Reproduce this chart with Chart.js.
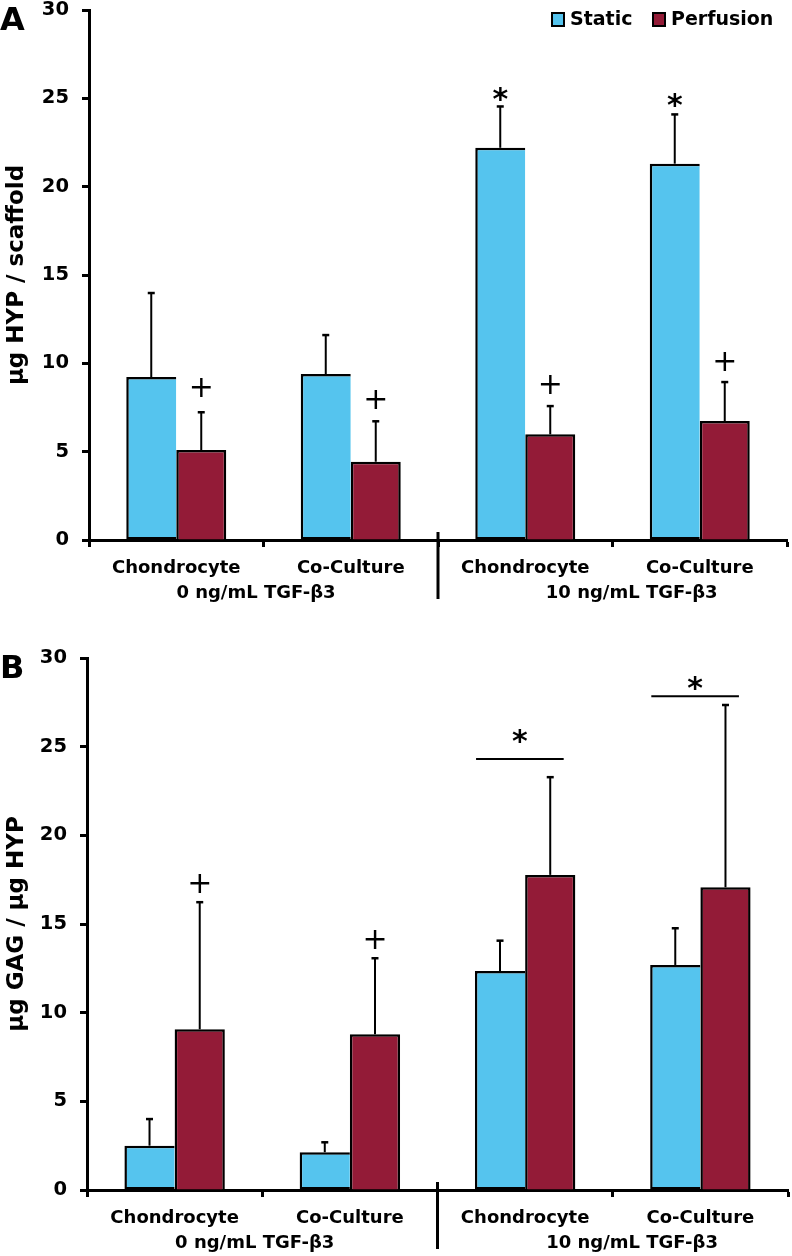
<!DOCTYPE html>
<html>
<head>
<meta charset="utf-8">
<script src="https://cdn.jsdelivr.net/npm/chart.js@4"></script>
<style>
  html, body { margin: 0; padding: 0; background: #fff; }
  #wrap { position: relative; width: 792px; height: 1256px; }
  #chart-hyp { position: absolute; left: 0; top: 0; }
  #chart-gag { position: absolute; left: 0; top: 620px; }
</style>
</head>
<body>
<div id="wrap">
  <canvas id="chart-hyp" width="792" height="618"></canvas>
  <canvas id="chart-gag" width="792" height="636"></canvas>
</div>
<script>
const categories = ["Chondrocyte", "Co-Culture", "Chondrocyte", "Co-Culture"];
const groupLabels = ["0 ng/mL TGF-β3", "10 ng/mL TGF-β3"];
const seriesNames = ["Static", "Perfusion"];
const yTicks = [0, 5, 10, 15, 20, 25, 30];

// panel A: µg HYP / scaffold
const hypStatic = [9.22, 9.39, 22.2, 21.3];
const hypStaticErr = [4.76, 2.21, 2.34, 2.79];
const hypPerfusion = [5.09, 4.43, 5.98, 6.73];
const hypPerfusionErr = [2.14, 2.29, 1.6, 2.21];
const hypStars = [null, null, 25.2, 24.9];        // "*" over static
const hypPlus = [8.66, 7.98, 8.83, 10.13];        // "+" over perfusion

// panel B: µg GAG / µg HYP
const gagStatic = [2.5, 2.13, 12.35, 12.69];
const gagStaticErr = [1.5, 0.56, 1.71, 2.07];
const gagPerfusion = [9.06, 8.78, 17.77, 17.07];
const gagPerfusionErr = [7.17, 4.29, 5.51, 10.28];
const gagPlus = [17.3, 14.14, null, null];
const gagBrackets = [null, null, 24.31, 27.85];   // "*" bracket line height
const gagBracketStars = [null, null, 25.57, 28.54];

const BLUE = "#55c4ee";
const RED = "#931b37";
const FONT = "'DejaVu Sans', sans-serif";

function glyph(ctx, text, font, cx, cy) {
  ctx.font = font;
  ctx.textAlign = "center";
  ctx.textBaseline = "alphabetic";
  const m = ctx.measureText(text);
  ctx.fillText(text, cx, cy + (m.actualBoundingBoxAscent - m.actualBoundingBoxDescent) / 2);
}

function overlay(cfg) {
  return {
    id: "overlay",
    afterDatasetsDraw(chart) {
      const { ctx, scales: { x, y } } = chart;
      ctx.save();
      ctx.strokeStyle = "#000";
      ctx.fillStyle = "#000";
      // error bars (upper only)
      cfg.errors.forEach((errs, d) => {
        const vals = chart.data.datasets[d].data;
        chart.getDatasetMeta(d).data.forEach((bar, i) => {
          const base = y.getPixelForValue(vals[i]);
          const top = y.getPixelForValue(vals[i] + errs[i]);
          ctx.lineWidth = 2;
          ctx.beginPath(); ctx.moveTo(bar.x, base); ctx.lineTo(bar.x, top); ctx.stroke();
          ctx.lineWidth = 2.5;
          ctx.beginPath(); ctx.moveTo(bar.x - 3.5, top); ctx.lineTo(bar.x + 3.5, top); ctx.stroke();
        });
      });
      // significance symbols
      cfg.marks.forEach((mk) => {
        const meta = chart.getDatasetMeta(mk.dataset);
        mk.values.forEach((v, i) => {
          if (v == null) return;
          const font = mk.symbol === "*" ? `bold 30px ${FONT}` : `30px ${FONT}`;
          glyph(ctx, mk.symbol, font, meta.data[i].x, y.getPixelForValue(v));
        });
      });
      // brackets
      if (cfg.brackets) {
        cfg.brackets.values.forEach((v, i) => {
          if (v == null) return;
          const py = y.getPixelForValue(v);
          const x0 = x.getPixelForValue(i - 0.28);
          const x1 = x.getPixelForValue(i + 0.22);
          ctx.lineWidth = 2;
          ctx.beginPath(); ctx.moveTo(x0, py); ctx.lineTo(x1, py); ctx.stroke();
          glyph(ctx, "*", `bold 30px ${FONT}`, (x0 + x1) / 2, y.getPixelForValue(cfg.brackets.stars[i]));
        });
      }
      ctx.restore();
    },
    afterDraw(chart) {
      const { ctx, chartArea, scales: { x } } = chart;
      ctx.save();
      ctx.fillStyle = "#000";
      ctx.strokeStyle = "#000";
      // group separator
      const sx = x.getPixelForValue(1.5);
      ctx.lineWidth = 3;
      ctx.beginPath();
      ctx.moveTo(sx, chartArea.bottom - 8);
      ctx.lineTo(sx, chartArea.bottom + 59);
      ctx.stroke();
      // group labels
      ctx.font = `bold 18px ${FONT}`;
      ctx.textAlign = "center";
      ctx.textBaseline = "middle";
      ctx.fillText(groupLabels[0], x.getPixelForValue(0.457), chartArea.bottom + 53);
      ctx.fillText(groupLabels[1], x.getPixelForValue(2.61), chartArea.bottom + 53);
      // panel letter
      ctx.font = `bold 32px ${FONT}`;
      ctx.textAlign = "left";
      ctx.textBaseline = "alphabetic";
      ctx.fillText(cfg.letter, 0, cfg.letterY);
      // legend
      if (cfg.legend) {
        const items = [
          { label: seriesNames[0], color: BLUE, x: 552 },
          { label: seriesNames[1], color: RED, x: 653 },
        ];
        items.forEach((it) => {
          ctx.fillStyle = it.color;
          ctx.fillRect(it.x, 13, 12, 13);
          ctx.lineWidth = 2;
          ctx.strokeRect(it.x, 13, 12, 13);
          ctx.fillStyle = "#000";
          ctx.font = `bold 19px ${FONT}`;
          ctx.textBaseline = "middle";
          ctx.fillText(it.label, it.x + 18, 20);
        });
      }
      ctx.restore();
    },
  };
}

function makeChart(id, opts) {
  const canvas = document.getElementById(id);
  return new Chart(canvas, {
    type: "bar",
    data: {
      labels: categories,
      datasets: [
        {
          label: seriesNames[0],
          data: opts.staticVals,
          backgroundColor: BLUE,
          borderColor: "#000",
          borderWidth: 2.5,
          borderSkipped: "right",
          categoryPercentage: 0.573,
          barPercentage: 1.0,
        },
        {
          label: seriesNames[1],
          data: opts.perfVals,
          backgroundColor: RED,
          borderColor: "#000",
          borderWidth: 2.5,
          borderSkipped: "bottom",
          categoryPercentage: 0.573,
          barPercentage: 1.0,
        },
      ],
    },
    options: {
      responsive: false,
      animation: false,
      layout: { padding: { top: opts.padTop, right: opts.padRight, left: 0, bottom: 0 } },
      plugins: { legend: { display: false }, tooltip: { enabled: false } },
      scales: {
        x: {
          offset: true,
          grid: { offset: true, drawOnChartArea: false, drawTicks: true, tickLength: 7, tickColor: "#000", tickWidth: 3 },
          border: { display: true, color: "#000", width: 3 },
          ticks: { color: "#000", font: { family: FONT, size: 18, weight: "bold" }, padding: 11, maxRotation: 0 },
          afterFit: (s) => { s.height = opts.xHeight; s.paddingLeft = 0; s.paddingRight = 0; },
        },
        y: {
          min: 0,
          max: 30,
          afterBuildTicks: (s) => { s.ticks = yTicks.map((v) => ({ value: v })); },
          grid: { drawOnChartArea: false, drawTicks: true, tickLength: 7, tickColor: "#000", tickWidth: 3 },
          border: { display: true, color: "#000", width: 3 },
          ticks: { color: "#000", font: { family: FONT, size: 19.5, weight: "bold" }, padding: 13 },
          title: { display: true, text: opts.yTitle, color: "#000", font: { family: FONT, size: 23, weight: "bold" }, padding: { top: 3, bottom: 0 } },
          afterFit: (s) => { s.width = opts.yWidth; s.paddingTop = 0; s.paddingBottom = 0; },
        },
      },
    },
    plugins: [overlay(opts.overlay)],
  });
}

makeChart("chart-hyp", {
  staticVals: hypStatic,
  perfVals: hypPerfusion,
  yTitle: "µg HYP / scaffold",
  padTop: 10,
  padRight: 5,
  yWidth: 89,
  xHeight: 78,
  overlay: {
    errors: [hypStaticErr, hypPerfusionErr],
    marks: [
      { dataset: 0, symbol: "*", values: hypStars },
      { dataset: 1, symbol: "+", values: hypPlus },
    ],
    letter: "A",
    letterY: 30,
    legend: true,
  },
});

makeChart("chart-gag", {
  staticVals: gagStatic,
  perfVals: gagPerfusion,
  yTitle: "µg GAG / µg HYP",
  padTop: 38,
  padRight: 4,
  yWidth: 87,
  xHeight: 66,
  overlay: {
    errors: [gagStaticErr, gagPerfusionErr],
    marks: [{ dataset: 1, symbol: "+", values: gagPlus }],
    brackets: { values: gagBrackets, stars: gagBracketStars },
    letter: "B",
    letterY: 58,
    legend: false,
  },
});
</script>
</body>
</html>
